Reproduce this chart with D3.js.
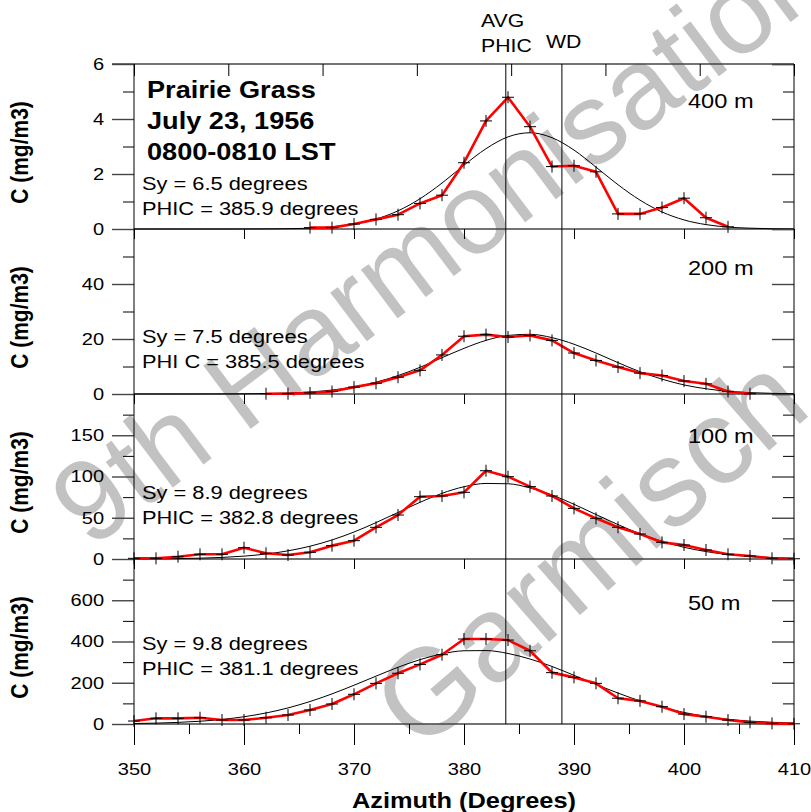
<!DOCTYPE html>
<html>
<head>
<meta charset="utf-8">
<script src="https://cdn.jsdelivr.net/npm/d3@7"></script>
<style>
  body { margin: 0; background: #fff; }
  svg { display: block; font-family: "Liberation Sans", Arial, sans-serif; }
</style>
</head>
<body>
<div class="graph"></div>
<script>
// azimuth ticks
const azimuthTicks = [350, 360, 370, 380, 390, 400, 410];
const azimuthMinor = [355, 365, 375, 385, 395, 405];
const topDivisions = [0, 1, 2, 3, 4, 5, 6, 7];

// panel labels
const heights = ["400 m", "200 m", "100 m", "50 m"];
const syLabels = ["Sy = 6.5 degrees", "Sy = 7.5 degrees", "Sy = 8.9 degrees", "Sy = 9.8 degrees"];
const phicLabels = ["PHIC = 385.9 degrees", "PHI C = 385.5 degrees", "PHIC = 382.8 degrees", "PHIC = 381.1 degrees"];
const titleLines = ["Prairie Grass", "July 23, 1956", "0800-0810 LST"];

// y scales
const yMax = [6, 60, 200, 800];
const yMajor = [[0, 2, 4, 6], [0, 20, 40], [0, 50, 100, 150], [0, 200, 400, 600]];
const yMinor = [[1, 3, 5], [10, 30, 50], [25, 75, 125, 175], [100, 300, 500, 700]];

// reference directions
const avgPhic = 383.8;
const windDir = 388.9;

// observed concentrations
const az400 = [366, 368, 370, 372, 374, 376, 378, 380, 382, 384, 386, 388, 390, 392, 394, 396, 398, 400, 402, 404];
const c400 = [0.05, 0.05, 0.18, 0.35, 0.52, 0.93, 1.23, 2.41, 3.93, 4.79, 3.72, 2.27, 2.3, 2.08, 0.55, 0.55, 0.78, 1.12, 0.41, 0.08];
const az200 = [362, 364, 366, 368, 370, 372, 374, 376, 378, 380, 382, 384, 386, 388, 390, 392, 394, 396, 398, 400, 402, 404, 406];
const c200 = [0.1, 0.1, 0.4, 0.9, 2.5, 3.9, 6.1, 8.6, 14.2, 21.0, 21.6, 20.7, 21.3, 19.5, 14.9, 12.2, 9.8, 7.6, 6.7, 4.7, 3.7, 0.9, 0.1];
const az100 = [350, 352, 354, 356, 358, 360, 362, 364, 366, 368, 370, 372, 374, 376, 378, 380, 382, 384, 386, 388, 390, 392, 394, 396, 398, 400, 402, 404, 406, 408, 410];
const c100 = [0.8, 0.8, 2.8, 5.7, 5.7, 13.7, 6.9, 4.8, 8.1, 16.2, 22.2, 38.4, 53.3, 75.5, 76.4, 80.8, 107, 99.8, 87.7, 76.4, 61.4, 49.3, 38.4, 30.3, 20.2, 17.0, 10.9, 5.7, 3.6, 0.8, 0.3];
const az50 = [350, 352, 354, 356, 358, 360, 362, 364, 366, 368, 370, 372, 374, 376, 378, 380, 382, 384, 386, 388, 390, 392, 394, 396, 398, 400, 402, 404, 406, 408, 410];
const c50 = [14.5, 27.5, 27.5, 30.5, 19.4, 19.4, 30.5, 43.6, 67.9, 97, 144, 197, 246, 289, 336, 412, 412, 407, 355, 249, 226, 197, 125, 112, 84, 48, 35, 19, 8, 3, 1];

// fitted gaussian curves
const fitAz = [350, 352, 354, 356, 358, 360, 362, 364, 366, 368, 370, 372, 374, 376, 378, 380, 382, 384, 386, 388, 390, 392, 394, 396, 398, 400, 402, 404, 406, 408, 410];
const fit400 = [0, 0, 0, 0, 0, 0.001, 0.004, 0.012, 0.03, 0.08, 0.18, 0.36, 0.66, 1.1, 1.67, 2.32, 2.92, 3.35, 3.5, 3.32, 2.87, 2.25, 1.61, 1.05, 0.62, 0.33, 0.16, 0.07, 0.03, 0.01, 0];
const fit200 = [0, 0, 0, 0.01, 0.03, 0.07, 0.16, 0.36, 0.74, 1.43, 2.56, 4.3, 6.7, 9.7, 13.2, 16.6, 19.5, 21.3, 21.7, 20.5, 18.1, 14.9, 11.4, 8.1, 5.4, 3.3, 1.9, 1.0, 0.5, 0.24, 0.1];
const fit100 = [0.1, 0.23, 0.49, 0.99, 1.9, 3.5, 6.0, 9.9, 15.5, 23.1, 32.7, 44.1, 56.4, 68.7, 79.6, 87.6, 91.6, 91.2, 86.2, 77.6, 66.3, 53.9, 41.7, 30.6, 21.4, 14.2, 9.0, 5.4, 3.1, 1.7, 0.86];
const fit50 = [2.3, 4.3, 7.8, 13.4, 22.1, 35.2, 53.4, 78, 109, 146, 188, 232, 275, 312, 340, 355, 356, 342, 315, 279, 236, 192, 150, 112, 81, 56, 37, 23, 14, 8.3, 4.6];

const obsAz = [az400, az200, az100, az50];
const obsC = [c400, c200, c100, c50];
const fits = [fit400, fit200, fit100, fit50];

let w = 811;
let h = 812;
let plotLeft = 134;
let plotRight = 794;
let plotTop = 64;
let ph = 165;
let sx = 1.18; // text in the picture is a bit wide

let svg = d3.select(".graph").append("svg").attr("width", w).attr("height", h);

// watermark
let wm = svg.append("g").attr("fill", "#c2c2c2");
wm.append("text").attr("transform", "translate(90,550) rotate(-37)").attr("font-size", 115).text("9th Harmonisation");
wm.append("text").attr("transform", "translate(420,754) rotate(-41)").attr("font-size", 122).text("Garmisch");

let x = d3.scaleLinear().domain([350, 410]).range([plotLeft, plotRight]);

function txt(g, px, py, s, size, weight, anchor) {
  return g.append("text")
    .attr("transform", "translate(" + px + "," + py + ") scale(" + sx + ",1)")
    .attr("font-size", size)
    .attr("font-weight", weight || "normal")
    .attr("text-anchor", anchor || "start")
    .attr("fill", "#000")
    .text(s);
}

function styleAxis(g, horiz) {
  g.attr("font-family", null);
  g.select(".domain").remove();
  g.selectAll("line").attr("stroke", horiz ? "#444" : "#000").attr("stroke-width", horiz ? 1.4 : 1);
  g.selectAll("text").attr("font-size", 17).attr("fill", "#000");
}

let labelY = [108, 275, 443, 610];
let syY = [190, 343, 499, 650];

for (let i = 0; i < 4; i++) {
  let y0 = plotTop + i * ph;
  let y = d3.scaleLinear().domain([0, yMax[i]]).range([y0 + ph, y0]);

  // left axis, outward ticks
  let gl = svg.append("g").attr("transform", "translate(" + plotLeft + ",0)")
    .call(d3.axisLeft(y).tickValues(yMajor[i]).tickSize(22).tickPadding(3.4).tickFormat(d3.format("d")));
  styleAxis(gl, true);
  gl.selectAll("text").attr("transform", "scale(" + sx + ",1)");
  let glm = svg.append("g").attr("transform", "translate(" + plotLeft + ",0)")
    .call(d3.axisLeft(y).tickValues(yMinor[i]).tickSize(11).tickFormat(""));
  styleAxis(glm, false);

  // right axis, inward ticks
  let gr = svg.append("g").attr("transform", "translate(" + plotRight + ",0)")
    .call(d3.axisLeft(y).tickValues(yMajor[i].concat([yMax[i]])).tickSize(22).tickFormat(""));
  styleAxis(gr, true);
  let grm = svg.append("g").attr("transform", "translate(" + plotRight + ",0)")
    .call(d3.axisLeft(y).tickValues(yMinor[i]).tickSize(11).tickFormat(""));
  styleAxis(grm, false);

  // zero line across the panel
  svg.append("line")
    .attr("x1", plotLeft).attr("x2", plotRight)
    .attr("y1", y(0)).attr("y2", y(0))
    .attr("stroke", "#444").attr("stroke-width", 1.4);

  // bottom ticks
  if (i < 3) {
    let gb = svg.append("g").attr("transform", "translate(0," + y(0) + ")")
      .call(d3.axisBottom(x).tickValues(azimuthTicks).tickSize(10).tickFormat(""));
    styleAxis(gb, false);
  } else {
    let gb = svg.append("g").attr("transform", "translate(0," + y(0) + ")")
      .call(d3.axisBottom(x).tickValues(azimuthTicks).tickSize(21).tickPadding(18).tickFormat(d3.format("d")));
    styleAxis(gb, false);
    gb.selectAll("text").attr("transform", "scale(" + sx + ",1)");
    let gbm = svg.append("g").attr("transform", "translate(0," + y(0) + ")")
      .call(d3.axisBottom(x).tickValues(azimuthMinor).tickSize(10).tickFormat(""));
    styleAxis(gbm, false);
  }

  // fitted curve
  let fitLine = d3.line().curve(d3.curveMonotoneX)
    .x((d, k) => x(fitAz[k]))
    .y((d) => y(d));
  svg.append("path").attr("d", fitLine(fits[i]))
    .attr("fill", "none").attr("stroke", "#000").attr("stroke-width", 1);

  // observed
  let obs = obsAz[i].map((a, k) => [a, obsC[i][k]]);
  let obsLine = d3.line().x((d) => x(d[0])).y((d) => y(d[1]));
  svg.append("path").attr("d", obsLine(obs))
    .attr("fill", "none").attr("stroke", "#ff0000").attr("stroke-width", 2.6)
    .attr("stroke-linejoin", "round");
  svg.append("g").selectAll("path")
    .data(obs).enter().append("path")
    .attr("transform", (d) => "translate(" + x(d[0]) + "," + y(d[1]) + ")")
    .attr("d", "M-6,0H6M0,-6V6")
    .attr("stroke", "#000").attr("stroke-width", 1).attr("fill", "none");

  // text
  txt(svg, 688, labelY[i], heights[i], 20);
  txt(svg, 142, syY[i], syLabels[i], 18.5);
  txt(svg, 142, syY[i] + 24.5, phicLabels[i], 18.5);

  svg.append("text")
    .attr("transform", "translate(28," + (y0 + ph / 2 + 6) + ") scale(" + sx + ",1) rotate(-90)")
    .attr("text-anchor", "middle")
    .attr("font-size", 21)
    .attr("font-weight", "bold")
    .text("C (mg/m3)");
}

// frame
svg.append("line").attr("x1", plotLeft - 22).attr("x2", plotRight).attr("y1", plotTop).attr("y2", plotTop)
  .attr("stroke", "#444").attr("stroke-width", 1.4);
svg.append("line").attr("x1", plotLeft).attr("x2", plotLeft).attr("y1", plotTop).attr("y2", plotTop + 4 * ph)
  .attr("stroke", "#000");
svg.append("line").attr("x1", plotRight).attr("x2", plotRight).attr("y1", plotTop).attr("y2", plotTop + 4 * ph)
  .attr("stroke", "#000");

// top division ticks of the first panel
let xt = d3.scaleLinear().domain([0, 7]).range([plotLeft, plotRight]);
let gt = svg.append("g").attr("transform", "translate(0," + plotTop + ")")
  .call(d3.axisBottom(xt).tickValues(topDivisions).tickSize(12).tickFormat(""));
styleAxis(gt, false);

// reference lines
[avgPhic, windDir].forEach((a) => {
  svg.append("line")
    .attr("x1", x(a)).attr("x2", x(a))
    .attr("y1", plotTop).attr("y2", plotTop + 4 * ph)
    .attr("stroke", "#000").attr("stroke-width", 1);
});
txt(svg, 481, 27, "AVG", 18);
txt(svg, 481, 52, "PHIC", 18);
txt(svg, 546, 48, "WD", 18);

// title block
titleLines.forEach((s, k) => {
  txt(svg, 147, 98 + k * 31, s, 23, "bold");
});

txt(svg, (plotLeft + plotRight) / 2, 808, "Azimuth (Degrees)", 21.5, "bold", "middle");
</script>
</body>
</html>
